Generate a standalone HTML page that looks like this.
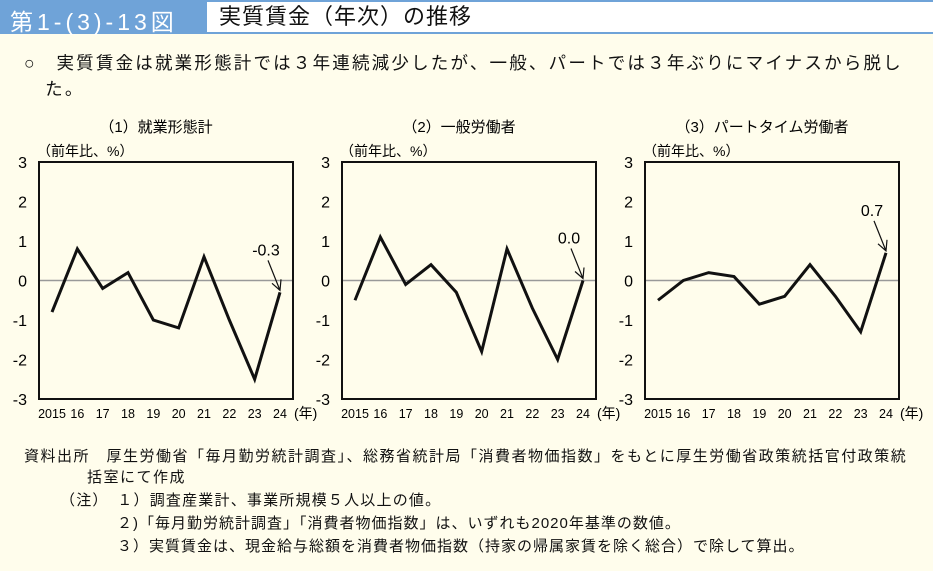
<!DOCTYPE html>
<html><head><meta charset="utf-8">
<style>
body{margin:0;width:933px;height:571px;background:#fffdec;font-family:"Liberation Sans","Noto Sans CJK JP",sans-serif;position:relative;overflow:hidden;color:#111}
.hdr{position:absolute;left:0;top:0;width:933px;height:34px;background:#6fa3d8}
.hnum{position:absolute;left:10px;top:3px;color:#fff;font-size:23px;letter-spacing:4px}
.htitle{position:absolute;left:207px;top:2px;width:726px;height:30px;background:#fff;font-size:22px;letter-spacing:1px;padding-left:12px;line-height:30px;box-sizing:border-box}
.lead{position:absolute;left:24px;top:50px;font-size:17.5px;letter-spacing:2.2px;line-height:26px;width:920px;white-space:nowrap}
.note{position:absolute;font-size:15px;letter-spacing:1.5px;line-height:21px;white-space:nowrap}
svg{position:absolute;left:0;top:0}
</style></head><body>
<div class="hdr"></div>
<div class="hnum">第1-(3)-13図</div>
<div class="htitle">実質賃金（年次）の推移</div>
<div class="lead">○　実質賃金は就業形態計では３年連続減少したが、一般、パートでは３年ぶりにマイナスから脱し<br>&nbsp;&nbsp;&nbsp;た。</div>
<svg id="chart" width="933" height="571"></svg>
<div class="note" style="left:24px;top:446px">資料出所　厚生労働省「毎月勤労統計調査」、総務省統計局「消費者物価指数」をもとに厚生労働省政策統括官付政策統<br><span style="padding-left:63px">括室にて作成</span></div>
<div class="note" style="left:60px;top:490px;letter-spacing:1.2px">（注）　１）調査産業計、事業所規模５人以上の値。</div>
<div class="note" style="left:117px;top:513px;letter-spacing:1px">２)「毎月勤労統計調査」「消費者物価指数」は、いずれも2020年基準の数値。</div>
<div class="note" style="left:117px;top:536px;letter-spacing:1px">３）実質賃金は、現金給与総額を消費者物価指数（持家の帰属家賃を除く総合）で除して算出。</div>
<script>
const categories=["2015","16","17","18","19","20","21","22","23","24"];
const yTicks=[3,2,1,0,-1,-2,-3];
const seriesTotal=[-0.8,0.8,-0.2,0.2,-1.0,-1.2,0.6,-1.0,-2.5,-0.3];
const seriesGeneral=[-0.5,1.1,-0.1,0.4,-0.3,-1.8,0.8,-0.7,-2.0,0.0];
const seriesPart=[-0.5,0.0,0.2,0.1,-0.6,-0.4,0.4,-0.4,-1.3,0.7];
const titles=["（1）就業形態計","（2）一般労働者","（3）パートタイム労働者"];
const labels=["-0.3","0.0","0.7"];
const NS="http://www.w3.org/2000/svg";
const svg=document.getElementById('chart');
function el(t,a,txt){const e=document.createElementNS(NS,t);for(const k in a)e.setAttribute(k,a[k]);if(txt!==undefined)e.textContent=txt;svg.appendChild(e);return e;}
function draw(left,data,title,label,idx){
  const top=162,bot=399,w=254;
  const y=v=>top+(3-v)/6*(bot-top);
  const x=i=>left+13+i*(w-26)/(categories.length-1);
  let t=el('text',{x:left+w/2-10,y:132,'font-size':15,'text-anchor':'middle'},title);
  
  t=el('text',{x:left-2,y:156,'font-size':14},'（前年比、%）');
  
  let z=el('line',{x1:left,x2:left+w,y1:y(0),y2:y(0),stroke:'#999','stroke-width':1.5});
  
  let r=el('rect',{x:left,y:top,width:w,height:bot-top,fill:'none',stroke:'#111','stroke-width':2});
  
  yTicks.forEach(v=>{const tt=el('text',{x:left-12,y:y(v)+6,'font-size':16,'text-anchor':'end'},String(v));
    });
  categories.forEach((c,i)=>{const tt=el('text',{x:x(i),y:418,'font-size':12.5,'text-anchor':'middle'},c);
    });
  t=el('text',{x:left+w+1,y:418,'font-size':14},'(年)');
  
  const p=el('polyline',{points:data.map((v,i)=>x(i)+','+y(v)).join(' '),fill:'none',stroke:'#111','stroke-width':3,'stroke-linejoin':'miter'});
  
  const lx=x(data.length-1),ly=y(data[data.length-1]);
  t=el('text',{x:lx-14,y:ly-37,'font-size':16,'text-anchor':'middle'},label);
  
  const a=el('path',{d:`M${lx-12} ${ly-32} L${lx} ${ly-2} M${lx-8} ${ly-9} L${lx} ${ly-2} L${lx+1} ${ly-13}`,fill:'none',stroke:'#111','stroke-width':1.2});
  
}
draw(39,seriesTotal,titles[0],labels[0],1);
draw(342,seriesGeneral,titles[1],labels[1],2);
draw(645,seriesPart,titles[2],labels[2],3);
</script>
</body></html>
